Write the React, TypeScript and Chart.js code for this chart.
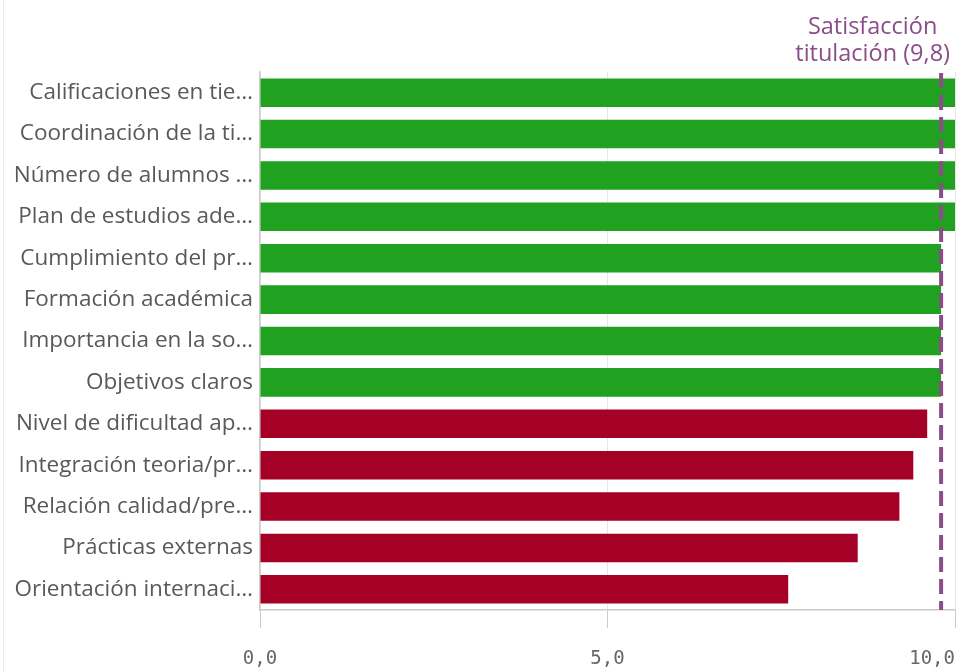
import React, { useEffect, useRef } from 'react';
import { Chart, registerables } from 'chart.js';

Chart.register(...registerables);

const CATEGORIES = [
  'Calificaciones en tie…',
  'Coordinación de la ti…',
  'Número de alumnos …',
  'Plan de estudios ade…',
  'Cumplimiento del pr…',
  'Formación académica',
  'Importancia en la so…',
  'Objetivos claros',
  'Nivel de dificultad ap…',
  'Integración teoria/pr…',
  'Relación calidad/pre…',
  'Prácticas externas',
  'Orientación internaci…',
];

const VALUES = [10, 10, 10, 10, 9.8, 9.8, 9.8, 9.8, 9.6, 9.4, 9.2, 8.6, 7.6];

const REFERENCE_VALUE = 9.8;
const REFERENCE_LABEL = ['Satisfacción', 'titulación (9,8)'];

const X_TICK_LABELS = ['0,0', '5,0', '10,0'];

const GREEN = '#20a120';
const RED = '#a50026';
const PURPLE = '#8b4d87';
const LABEL_FONT = '"Open Sans", "Noto Sans", sans-serif';

const overlayPlugin = {
  id: 'overlay',
  afterDatasetsDraw(chart: any) {
    const { ctx, chartArea, scales } = chart;
    const xs = scales.x;
    const x = xs.getPixelForValue(REFERENCE_VALUE);
    ctx.save();
    ctx.strokeStyle = PURPLE;
    ctx.lineWidth = 4;
    ctx.setLineDash([15, 7]);
    ctx.beginPath();
    ctx.moveTo(x, chartArea.top + 1);
    ctx.lineTo(x, chartArea.bottom);
    ctx.stroke();
    ctx.setLineDash([]);

    ctx.font = `23.5px ${LABEL_FONT}`;
    ctx.fillStyle = PURPLE;
    ctx.textAlign = 'center';
    ctx.textBaseline = 'alphabetic';
    const maxW = Math.max(...REFERENCE_LABEL.map((t) => ctx.measureText(t).width));
    const cx = Math.min(x, chart.width - 6 - maxW / 2);
    const n = REFERENCE_LABEL.length;
    REFERENCE_LABEL.forEach((t, i) => {
      ctx.fillText(t, cx, chartArea.top - 11 - (n - 1 - i) * 27);
    });
    ctx.restore();
  },
  afterDraw(chart: any) {
    const { ctx, chartArea, scales } = chart;
    const xs = scales.x;
    ctx.save();
    ctx.font = '19px "DejaVu Sans Mono", monospace';
    ctx.fillStyle = '#666666';
    ctx.textAlign = 'center';
    ctx.textBaseline = 'middle';
    xs.ticks.forEach((tk: any, i: number) => {
      const label = X_TICK_LABELS[i] ?? String(tk.value);
      const w = ctx.measureText(label).width;
      const px = xs.getPixelForValue(tk.value);
      const cx = Math.min(px, chart.width - 1 - w / 2);
      ctx.fillText(label, cx, chartArea.bottom + 49);
    });
    ctx.restore();
  },
};

export default function App() {
  const ref = useRef<HTMLCanvasElement | null>(null);

  useEffect(() => {
    if (!ref.current) return;
    const chart = new Chart(ref.current, {
      type: 'bar',
      data: {
        labels: CATEGORIES,
        datasets: [
          {
            data: VALUES,
            backgroundColor: VALUES.map((v) => (v >= REFERENCE_VALUE ? GREEN : RED)),
            borderWidth: 0,
            barPercentage: 0.69,
            categoryPercentage: 1,
          },
        ],
      },
      options: {
        indexAxis: 'y',
        animation: false,
        responsive: false,
        maintainAspectRatio: false,
        layout: { padding: { top: 72, right: 1, bottom: 43, left: 0 } },
        plugins: {
          legend: { display: false },
          tooltip: { enabled: false },
          title: { display: false },
        },
        scales: {
          x: {
            min: 0,
            max: 10,
            ticks: { stepSize: 5, display: false },
            grid: {
              display: true,
              color: '#e6e6e6',
              tickColor: '#cccccc',
              tickLength: 18,
              drawTicks: true,
            },
            border: { display: true, color: '#cccccc', width: 1.5 },
          },
          y: {
            ticks: {
              color: '#595959',
              font: { family: LABEL_FONT, size: 22.5 },
              padding: 7,
              autoSkip: false,
            },
            grid: { display: false, drawTicks: false },
            border: { display: true, color: '#cccccc', width: 1.5 },
            afterFit(scale: any) {
              scale.width = 260;
            },
          },
        },
      },
      plugins: [overlayPlugin],
    });
    return () => chart.destroy();
  }, []);

  return (
    <div
      style={{
        position: 'absolute',
        left: 0,
        top: 0,
        width: 956,
        height: 671,
        background: '#ffffff',
        overflow: 'hidden',
      }}
    >
      <div
        style={{
          position: 'absolute',
          left: 3,
          top: 0,
          width: 1,
          height: 671,
          background: '#ececec',
        }}
      />
      <canvas ref={ref} width={956} height={671} style={{ display: 'block', position: 'relative' }} />
    </div>
  );
}
